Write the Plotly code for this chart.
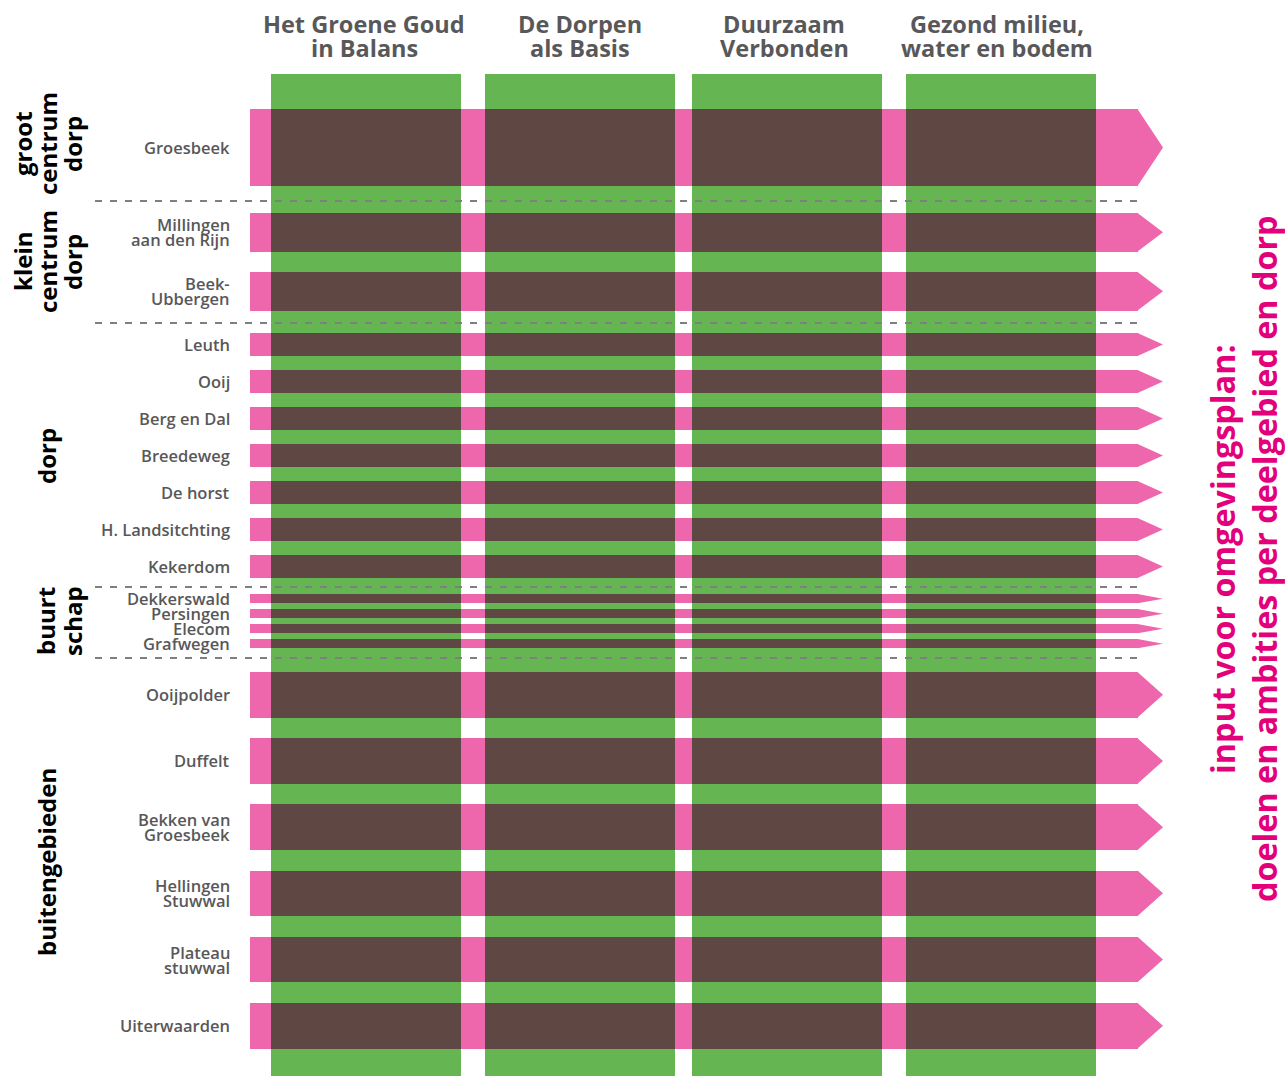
import plotly.graph_objects as go

# ---------------- data ----------------
themes = [
    ["Het Groene Goud", "in Balans"],
    ["De Dorpen", "als Basis"],
    ["Duurzaam", "Verbonden"],
    ["Gezond milieu,", "water en bodem"],
]
group_names = [
    ["groot", "centrum", "dorp"],
    ["klein", "centrum", "dorp"],
    ["dorp"],
    ["buurt", "schap"],
    ["buitengebieden"],
]
group_places = [
    [["Groesbeek"]],
    [["Millingen", "aan den Rijn"], ["Beek-", "Ubbergen"]],
    [["Leuth"], ["Ooij"], ["Berg en Dal"], ["Breedeweg"], ["De horst"],
     ["H. Landsitchting"], ["Kekerdom"]],
    [["Dekkerswald"], ["Persingen"], ["Elecom"], ["Grafwegen"]],
    [["Ooijpolder"], ["Duffelt"], ["Bekken van", "Groesbeek"],
     ["Hellingen", "Stuwwal"], ["Plateau", "stuwwal"], ["Uiterwaarden"]],
]
side_title = ["input voor omgevingsplan:", "doelen en ambities per deelgebied en dorp"]

# ---------------- layout / style ----------------
W, H = 1285, 1076
GREEN, PINK, BROWN = "#66b553", "#ee67ad", "#5f4843"
HEAD_C, LAB_C, MAG = "#58585a", "#58585a", "#e3007b"
FONT = "Open Sans"

col_left = [271, 485, 692, 906]
col_w = 190
col_top = 74
band_left, rect_end, tip_x = 250, 1138, 1163
# per group: first band top, band height, pitch
group_geom = [(109, 77, 0), (213, 38.5, 59), (333, 23, 37), (594, 9.3, 15), (672, 45.5, 66.2)]
separators = [201, 323, 587, 658]
group_label_x = [[22, 47, 72], [22, 47, 72], [46], [45, 72], [46]]
group_label_y = [144, 262, 456, 621, 862]
head_x_shift = [-2, 0, -3, -4]
head_y = [24, 48]
label_x = 232
label_line = 15
label_dy = 0

# compute rows
rows = []  # (center, height, lines)
for (top, h, pitch), plist in zip(group_geom, group_places):
    for i, lines in enumerate(plist):
        t = top + i * pitch
        rows.append((t + h / 2, h, lines))

fig = go.Figure()

# pink bands (rectangle part)
fig.add_trace(go.Bar(
    orientation="h", y=[r[0] for r in rows], x=[rect_end - band_left] * len(rows),
    base=[band_left] * len(rows), width=[r[1] for r in rows],
    marker=dict(color=PINK, line=dict(width=0)), hoverinfo="skip", showlegend=False))

# green theme columns
fig.add_trace(go.Bar(
    orientation="v", x=[c + col_w / 2 for c in col_left], y=[H - col_top] * len(col_left),
    base=[col_top] * len(col_left), width=[col_w] * len(col_left),
    marker=dict(color=GREEN, line=dict(width=0)), hoverinfo="skip", showlegend=False))

# brown intersections
bx, by, bw, bb = [], [], [], []
for c in col_left:
    for r in rows:
        by.append(r[0]); bx.append(col_w); bb.append(c); bw.append(r[1])
fig.add_trace(go.Bar(
    orientation="h", y=by, x=bx, base=bb, width=bw,
    marker=dict(color=BROWN, line=dict(width=0)), hoverinfo="skip", showlegend=False))

# arrow tips
tx, ty = [], []
for cy, h, _ in rows:
    tx += [rect_end - 0.5, tip_x, rect_end - 0.5, rect_end - 0.5, None]
    ty += [cy - h / 2, cy, cy + h / 2, cy - h / 2, None]
fig.add_trace(go.Scatter(
    x=tx, y=ty, mode="lines", fill="toself", fillcolor=PINK,
    line=dict(width=0, color=PINK), hoverinfo="skip", showlegend=False))

# separators
for y in separators:
    fig.add_shape(type="line", x0=95, x1=1142, y0=y, y1=y, xref="x", yref="y",
                  line=dict(color="#7f7f7f", width=2, dash="7px,8px"), layer="above")

ann = []
# headers
for c, lines, dx in zip(col_left, themes, head_x_shift):
    for ln, yy in zip(lines, head_y):
        ann.append(dict(x=c + col_w / 2 + dx, y=yy, text=ln, showarrow=False, xanchor="center",
                        yanchor="middle", font=dict(family=FONT, size=23.5, color=HEAD_C, weight="bold")))
# row labels
for cy, h, lines in rows:
    n = len(lines)
    for k, ln in enumerate(lines):
        yy = cy + label_dy + (k - (n - 1) / 2) * label_line
        ann.append(dict(x=label_x, y=yy, text=ln, showarrow=False, xanchor="right",
                        yanchor="middle", font=dict(family=FONT, size=16.5, color=LAB_C, weight=600)))
# group labels
for names, xs, yc in zip(group_names, group_label_x, group_label_y):
    for nm, xx in zip(names, xs):
        ann.append(dict(x=xx, y=yc, text=nm, showarrow=False, textangle=-90,
                        xanchor="center", yanchor="middle",
                        font=dict(family=FONT, size=24, color="#000000", weight="bold")))
# side title
for ln, xx in zip(side_title, [1222, 1264]):
    ann.append(dict(x=xx, y=559, text=ln, showarrow=False, textangle=-90,
                    xanchor="center", yanchor="middle",
                    font=dict(family=FONT, size=32.3, color=MAG, weight="bold")))

fig.update_layout(
    width=W, height=H, margin=dict(l=0, r=0, t=0, b=0),
    paper_bgcolor="white", plot_bgcolor="white", barmode="overlay", bargap=0,
    xaxis=dict(range=[0, W], visible=False, fixedrange=True),
    yaxis=dict(range=[H, 0], visible=False, fixedrange=True),
    annotations=ann, showlegend=False,
)

fig.write_html("out.html", config={"displayModeBar": False},
               post_script="document.body.style.margin='0';")
